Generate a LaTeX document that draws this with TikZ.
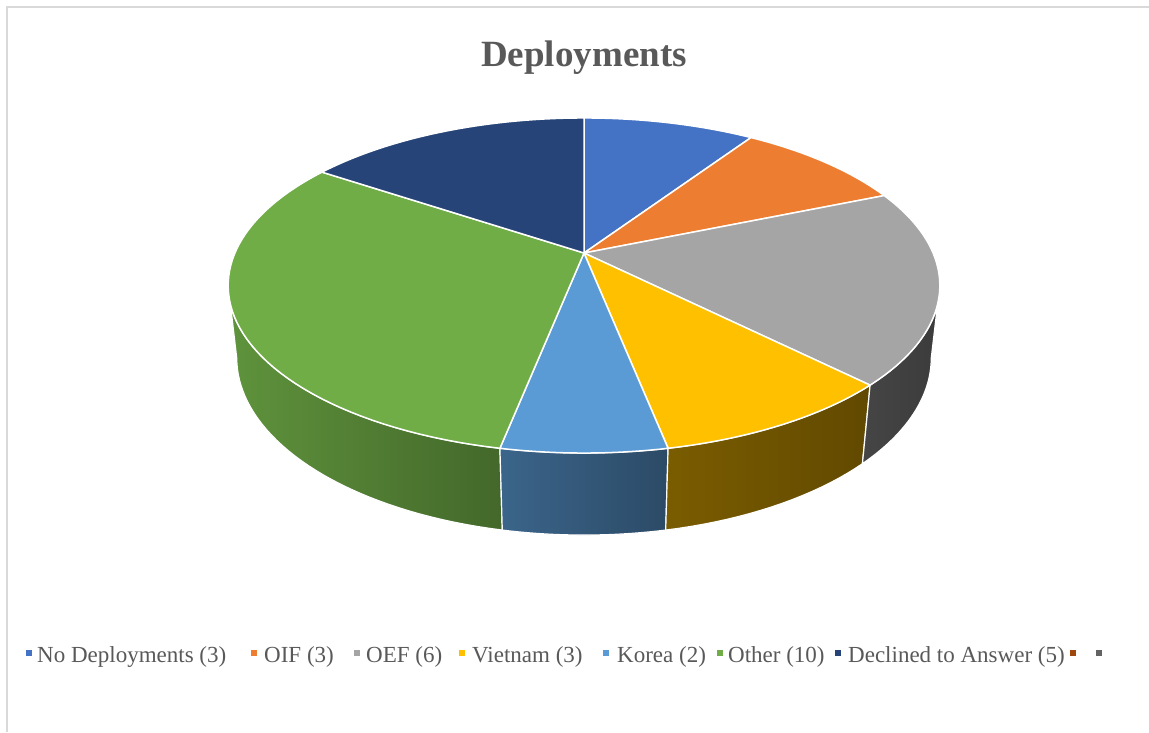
\documentclass[tikz,border=0pt]{standalone}
\usepackage{fontspec}
\setmainfont{Liberation Serif}
\definecolor{cNo}{HTML}{4472C4}
\definecolor{cOIF}{HTML}{ED7D31}
\definecolor{cOEF}{HTML}{A5A5A5}
\definecolor{cViet}{HTML}{FFC000}
\definecolor{cKor}{HTML}{5B9BD5}
\definecolor{cOth}{HTML}{70AD47}
\definecolor{cDec}{HTML}{264478}
\definecolor{cBrown}{HTML}{9E480E}
\definecolor{cGrayD}{HTML}{636363}
\definecolor{txt}{HTML}{595959}
\definecolor{frame}{HTML}{D9D9D9}
\begin{document}
\begin{tikzpicture}[x=1pt,y=1pt,
  declare function={
    tpx(\t)=584+1596*sin(\t)/(4.572+0.887*cos(\t));
    tpy(\t)=479+737.2*cos(\t)/(4.572+0.887*cos(\t));
    btx(\t)=584+1596*sin(\t)/(4.6805+0.887*cos(\t));
    bty(\t)=479+(737.2*cos(\t)-332.8)/(4.6805+0.887*cos(\t));
  },
  slice/.style={draw=white,line width=1.5pt,line join=round},
  side/.style={draw=white,line width=1.2pt,line join=round},
  legsq/.style={minimum size=6pt,inner sep=0pt,draw=none},
  legtxt/.style={anchor=base west,inner sep=0pt,text=txt,font=\fontsize{23}{27}\selectfont}
]
\useasboundingbox (0,0) rectangle (1149,732);
\fill[white] (0,0) rectangle (1149,732);
% frame
\draw[frame,line width=2pt] (7,0) -- (7,725) -- (1149,725);
% title
\node[anchor=base,inner sep=0pt,text=txt,font=\fontsize{37}{40}\selectfont\bfseries] (title) at (584,665) {Deployments};

\coordinate (c) at (584,479);

% side faces
\path[side,left color=cOth!85!black,right color=cOth!60!black]
  plot[domain=191.25:259,samples=40,variable=\t] ({tpx(\t)},{tpy(\t)})
  -- plot[domain=259:191.25,samples=40,variable=\t] ({btx(\t)},{bty(\t)}) -- cycle;
\path[side,left color=cKor!65!black,right color=cKor!48!black]
  plot[domain=168.75:191.25,samples=20,variable=\t] ({tpx(\t)},{tpy(\t)})
  -- plot[domain=191.25:168.75,samples=20,variable=\t] ({btx(\t)},{bty(\t)}) -- cycle;
\path[side,left color=cViet!48!black,right color=cViet!38!black]
  plot[domain=135:168.75,samples=20,variable=\t] ({tpx(\t)},{tpy(\t)})
  -- plot[domain=168.75:135,samples=20,variable=\t] ({btx(\t)},{bty(\t)}) -- cycle;
\path[side,left color=cOEF!42!black,right color=cOEF!36!black]
  plot[domain=101:135,samples=30,variable=\t] ({tpx(\t)},{tpy(\t)})
  -- plot[domain=135:101,samples=30,variable=\t] ({btx(\t)},{bty(\t)}) -- cycle;

% top faces
\path[slice,fill=cNo]   (c) -- plot[domain=0:33.75,samples=25,variable=\t] ({tpx(\t)},{tpy(\t)}) -- cycle;
\path[slice,fill=cOIF]  (c) -- plot[domain=33.75:67.5,samples=25,variable=\t] ({tpx(\t)},{tpy(\t)}) -- cycle;
\path[slice,fill=cOEF]  (c) -- plot[domain=67.5:135,samples=40,variable=\t] ({tpx(\t)},{tpy(\t)}) -- cycle;
\path[slice,fill=cViet] (c) -- plot[domain=135:168.75,samples=25,variable=\t] ({tpx(\t)},{tpy(\t)}) -- cycle;
\path[slice,fill=cKor]  (c) -- plot[domain=168.75:191.25,samples=20,variable=\t] ({tpx(\t)},{tpy(\t)}) -- cycle;
\path[slice,fill=cOth]  (c) -- plot[domain=191.25:303.75,samples=60,variable=\t] ({tpx(\t)},{tpy(\t)}) -- cycle;
\path[slice,fill=cDec]  (c) -- plot[domain=303.75:360,samples=30,variable=\t] ({tpx(\t)},{tpy(\t)}) -- cycle;

% legend
\node[legsq,fill=cNo]   (s1) at (29,79) {};
\node[legtxt] (l1) at (37,70) {No Deployments (3)};
\node[legsq,fill=cOIF]  (s2) at (254,79) {};
\node[legtxt] (l2) at (264,70) {OIF (3)};
\node[legsq,fill=cOEF]  (s3) at (357,79) {};
\node[legtxt] (l3) at (366,70) {OEF (6)};
\node[legsq,fill=cViet] (s4) at (462,79) {};
\node[legtxt] (l4) at (472,70) {Vietnam (3)};
\node[legsq,fill=cKor]  (s5) at (606,79) {};
\node[legtxt] (l5) at (617,70) {Korea (2)};
\node[legsq,fill=cOth]  (s6) at (720,79) {};
\node[legtxt] (l6) at (728,70) {Other (10)};
\node[legsq,fill=cDec]  (s7) at (838,79) {};
\node[legtxt] (l7) at (848,70) {Declined to Answer (5)};
\node[legsq,fill=cBrown] (s8) at (1073,79) {};
\node[legsq,fill=cGrayD] (s9) at (1099,79) {};
\end{tikzpicture}
\end{document}
